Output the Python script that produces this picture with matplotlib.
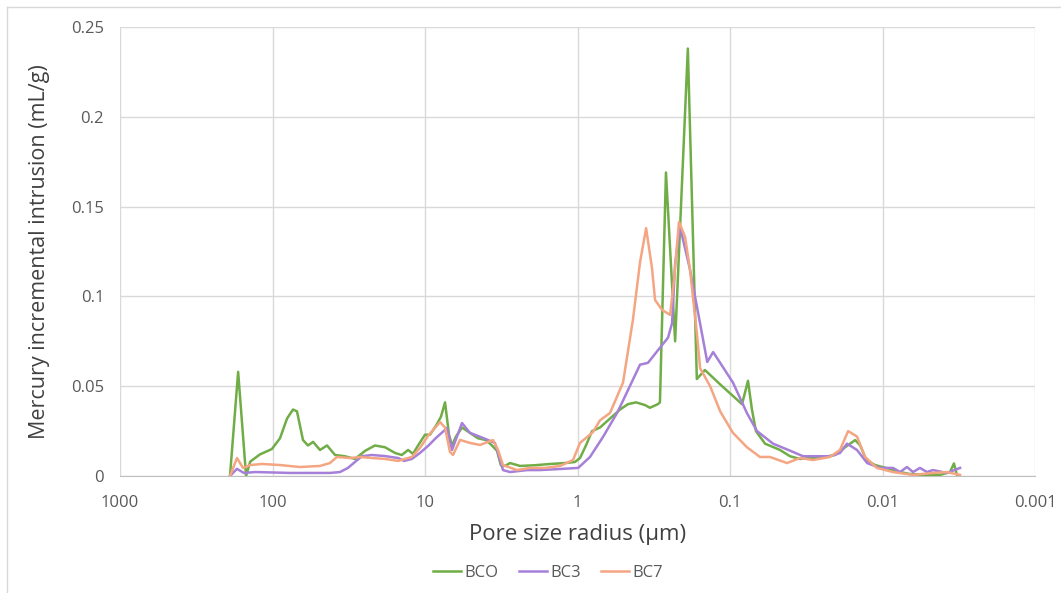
import matplotlib
matplotlib.use("Agg")
import matplotlib.pyplot as plt
from matplotlib.lines import Line2D

plt.rcParams['font.family'] = ['Open Sans', 'DejaVu Sans']

# pore radius (um) and incremental intrusion (mL/g)
bco_r = [190, 168, 149, 140, 121, 101, 89.3, 80.3, 73.4, 69.1, 63.1, 58.5, 54.2, 48.8, 43.9,
         38.9, 33.5, 28.8, 24.7, 21.3, 18.3, 15.7, 14.2, 12.9, 12.0, 11.1, 10.0, 9.27, 8.47,
         7.86, 7.39, 6.96, 6.65, 6.26, 5.72, 5.07, 4.49, 3.98, 3.64, 3.37, 3.18, 2.99, 2.77,
         2.38, 1.90, 1.51, 1.21, 1.04, 0.963, 0.880, 0.803, 0.712, 0.631, 0.526, 0.467, 0.413,
         0.361, 0.335, 0.297, 0.288, 0.263, 0.229, 0.189, 0.165, 0.146, 0.116, 0.0834, 0.0762,
         0.0718, 0.0676, 0.0589, 0.047, 0.0404, 0.0348, 0.0299, 0.0238, 0.0205, 0.0176, 0.0151,
         0.014, 0.0128, 0.0112, 0.00893, 0.00768, 0.0066, 0.00526, 0.0042, 0.00361, 0.0034,
         0.00325, 0.0032]
bco_v = [0, 0.058, 0.0, 0.008, 0.012, 0.015, 0.021, 0.032, 0.037, 0.036, 0.020, 0.017, 0.019,
         0.0145, 0.017, 0.0117, 0.011, 0.0095, 0.014, 0.017, 0.016, 0.0128, 0.0117, 0.0145,
         0.0123, 0.017, 0.023, 0.023, 0.028, 0.033, 0.041, 0.023, 0.017, 0.022, 0.027, 0.024,
         0.021, 0.020, 0.017, 0.014, 0.006, 0.0056, 0.0072, 0.0056, 0.006, 0.0067, 0.0072,
         0.0078, 0.010, 0.017, 0.025, 0.027, 0.031, 0.037, 0.040, 0.041, 0.0395, 0.038, 0.040,
         0.041, 0.169, 0.075, 0.238, 0.054, 0.059, 0.051, 0.040, 0.053, 0.037, 0.025, 0.018,
         0.0145, 0.011, 0.0095, 0.010, 0.0106, 0.0117, 0.016, 0.020, 0.017, 0.009, 0.0061,
         0.0039, 0.0022, 0.0011, 0.0006, 0.0006, 0.0022, 0.007, 0.0006, 0.0]

bc3_r = [190, 171, 154, 130, 104, 76.8, 56.8, 42.0, 36.1, 32.0, 28.8, 25.9, 22.3, 18.3, 15.0,
         13.7, 12.2, 10.8, 9.56, 8.47, 7.17, 6.65, 5.72, 5.07, 4.17, 3.48, 3.32, 3.08, 2.77,
         2.14, 1.76, 1.30, 0.99, 0.828, 0.681, 0.551, 0.526, 0.389, 0.345, 0.297, 0.255, 0.240,
         0.229, 0.213, 0.183, 0.162, 0.141, 0.129, 0.116, 0.0956, 0.0774, 0.0665, 0.0522,
         0.0386, 0.0332, 0.0269, 0.0221, 0.019, 0.0171, 0.0147, 0.0126, 0.0104, 0.00853,
         0.00768, 0.00691, 0.00631, 0.00568, 0.00511, 0.00467, 0.00378, 0.0031]
bc3_v = [0, 0.004, 0.0017, 0.0022, 0.002, 0.0017, 0.0017, 0.0017, 0.0022, 0.0045, 0.0078,
         0.011, 0.0117, 0.0111, 0.010, 0.0084, 0.0095, 0.0128, 0.0167, 0.0212, 0.0267, 0.0145,
         0.0295, 0.024, 0.0212, 0.0184, 0.0128, 0.0033, 0.0022, 0.0033, 0.0033, 0.0039, 0.0045,
         0.0106, 0.0217, 0.035, 0.0385, 0.062, 0.063, 0.070, 0.077, 0.085, 0.118, 0.139, 0.115,
         0.091, 0.0635, 0.069, 0.063, 0.052, 0.035, 0.025, 0.018, 0.0134, 0.011, 0.011, 0.011,
         0.0128, 0.018, 0.0145, 0.0072, 0.0045, 0.0045, 0.0022, 0.005, 0.0022, 0.0045, 0.0022,
         0.0033, 0.0017, 0.0045]

bc7_r = [190, 171, 156, 140, 117, 89.3, 66.0, 48.8, 42.0, 37.8, 31.0, 26.7, 22.3, 18.3, 15.0,
         12.2, 10.8, 9.56, 7.97, 7.39, 6.86, 6.55, 5.89, 5.07, 4.36, 3.58, 3.32, 3.08, 2.49,
         2.05, 1.63, 1.30, 1.07, 0.963, 0.791, 0.712, 0.612, 0.503, 0.433, 0.389, 0.355, 0.325,
         0.310, 0.279, 0.247, 0.233, 0.216, 0.197, 0.183, 0.165, 0.157, 0.135, 0.116, 0.0956,
         0.0774, 0.0636, 0.0547, 0.0423, 0.0348, 0.0286, 0.0221, 0.019, 0.0168, 0.0147, 0.013,
         0.0109, 0.00853, 0.00631, 0.00467, 0.00378, 0.0031]
bc7_v = [0, 0.010, 0.0045, 0.0061, 0.0067, 0.0061, 0.005, 0.0056, 0.0072, 0.0106, 0.010,
         0.0106, 0.010, 0.0095, 0.0084, 0.0106, 0.0156, 0.0223, 0.030, 0.027, 0.0134, 0.0117,
         0.0201, 0.0184, 0.0173, 0.020, 0.0145, 0.0061, 0.0033, 0.0045, 0.0045, 0.0056, 0.0089,
         0.0184, 0.0245, 0.031, 0.0351, 0.052, 0.087, 0.119, 0.138, 0.116, 0.098, 0.0925,
         0.0897, 0.109, 0.1415, 0.133, 0.115, 0.0797, 0.060, 0.050, 0.036, 0.024, 0.016,
         0.0106, 0.0106, 0.0072, 0.010, 0.0089, 0.0106, 0.0145, 0.025, 0.022, 0.0106, 0.0045,
         0.0022, 0.0006, 0.0017, 0.0022, 0.0006]

x_ticks = [1000, 100, 10, 1, 0.1, 0.01, 0.001]
x_labels = ['1000', '100', '10', '1', '0.1', '0.01', '0.001']
y_ticks = [0, 0.05, 0.1, 0.15, 0.2, 0.25]
y_labels = ['0', '0.05', '0.1', '0.15', '0.2', '0.25']

green = '#70ad47'
purple = '#a680d8'
salmon = '#f4a582'

fig = plt.figure(figsize=(10.61, 5.93), dpi=100)
ax = fig.add_axes([120 / 1061, 1 - 476 / 593, 915 / 1061, 449 / 593])

ax.plot(bco_r, bco_v, color=green, lw=1.8, label='BCO', zorder=3)
ax.plot(bc3_r, bc3_v, color=purple, lw=1.8, label='BC3', zorder=3)
ax.plot(bc7_r, bc7_v, color=salmon, lw=1.8, label='BC7', zorder=3)

ax.set_xscale('log')
ax.set_xlim(1000, 0.001)
ax.set_ylim(0, 0.25)
ax.set_xticks(x_ticks)
ax.set_xticklabels(x_labels)
ax.minorticks_off()
ax.set_yticks(y_ticks)
ax.set_yticklabels(y_labels)
ax.tick_params(length=0, labelsize=12, labelcolor='#595959')
ax.tick_params(axis='x', pad=14)
ax.tick_params(axis='y', pad=11.5)
ax.grid(True, color='#d9d9d9', lw=1)
ax.set_axisbelow(True)
for s in ['top', 'right', 'left']:
    ax.spines[s].set_visible(False)
ax.spines['bottom'].set_color('#bfbfbf')

ax.set_xlabel('Pore size radius (µm)', fontsize=16, color='#404040', labelpad=9)
ax.set_ylabel('Mercury incremental intrusion (mL/g)', fontsize=15.5, color='#404040', labelpad=15)

handles = [Line2D([], [], color=green, lw=1.8), Line2D([], [], color=purple, lw=1.8),
           Line2D([], [], color=salmon, lw=1.8)]
fig.legend(handles, ['BCO', 'BC3', 'BC7'], loc='center', bbox_to_anchor=(548 / 1061, 1 - 573 / 593),
           ncol=3, frameon=False, fontsize=12, handlelength=1.7, handletextpad=0.2,
           columnspacing=1.2, labelcolor='#595959')

# light frame around the chart area
fig.add_artist(Line2D([7 / 1061, 1], [1 - 7 / 593, 1 - 7 / 593], color='#d9d9d9', lw=1))
fig.add_artist(Line2D([7 / 1061, 7 / 1061], [0, 1 - 7 / 593], color='#d9d9d9', lw=1))

fig.savefig('out.png', dpi=100)
